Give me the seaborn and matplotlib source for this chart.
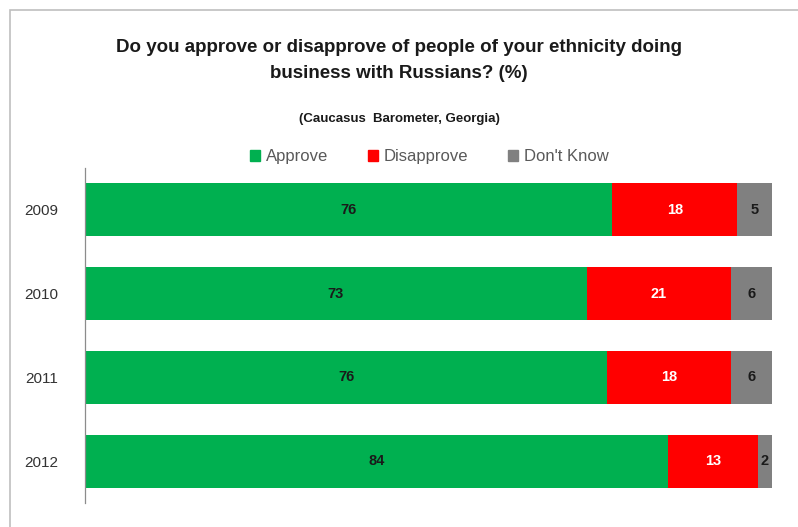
import matplotlib
matplotlib.use("Agg")
import matplotlib.pyplot as plt
from matplotlib.patches import Rectangle
import seaborn as sns
import pandas as pd
import numpy as np

years = ["2009", "2010", "2011", "2012"]
approve = [76, 73, 76, 84]
disapprove = [18, 21, 18, 13]
dont_know = [5, 6, 6, 2]

series_names = ["Approve", "Disapprove", "Don't Know"]
colors = ["#00B050", "#FF0000", "#808080"]
label_colors = ["#1a1a1a", "white", "#1a1a1a"]

sns.set_theme(style="white")
plt.rcParams["font.family"] = ["Liberation Sans", "DejaVu Sans"]

df = pd.DataFrame({"year": years, "Approve": approve,
                   "Disapprove": disapprove, "Don't Know": dont_know})
totals = df[series_names].sum(axis=1)
shares = df[series_names].div(totals, axis=0) * 100
cum = shares.cumsum(axis=1)

fig = plt.figure(figsize=(7.98, 5.27), dpi=100)
ax = fig.add_axes([85 / 798, 1 - 503 / 527, (772 - 85) / 798, (503 - 168) / 527])

# 100% stacked bars: draw cumulative extents from the outermost segment inward
for name, col in reversed(list(zip(series_names, colors))):
    sns.barplot(x=cum[name], y=df["year"], orient="h", color=col,
                width=0.63, saturation=1, ax=ax, linewidth=0)

# value labels centred in each segment
for i in range(len(years)):
    left = 0
    for name, lc in zip(series_names, label_colors):
        w = shares.loc[i, name]
        ax.text(left + w / 2, i, str(df.loc[i, name]), ha="center", va="center",
                fontsize=10.5, fontweight="bold", color=lc)
        left += w

ax.set_xlim(0, 100)
ax.set_ylim(3.5, -0.5)
ax.set_xlabel("")
ax.set_ylabel("")
ax.set_xticks([])
ax.tick_params(axis="y", length=0, pad=19, labelsize=11, labelcolor="#333333")
for s in ["top", "right", "bottom"]:
    ax.spines[s].set_visible(False)
ax.spines["left"].set_color("#8c8c8c")
ax.spines["left"].set_linewidth(0.9)

# outer chart frame
fig.patches.append(Rectangle((10 / 798, -0.1), 1.2, 1 - 10 / 527 + 0.1,
                             transform=fig.transFigure, fill=False,
                             edgecolor="#bfbfbf", linewidth=1.2))

fig.text(0.5, 1 - 48 / 527, "Do you approve or disapprove of people of your ethnicity doing",
         ha="center", va="center", fontsize=13.5, fontweight="bold", color="#1a1a1a")
fig.text(0.5, 1 - 73 / 527, "business with Russians? (%)",
         ha="center", va="center", fontsize=13.5, fontweight="bold", color="#1a1a1a")
fig.text(0.5, 1 - 119 / 527, "(Caucasus  Barometer, Georgia)",
         ha="center", va="center", fontsize=9.5, fontweight="bold", color="#1a1a1a")

handles = [Rectangle((0, 0), 1, 1, color=c) for c in colors]
fig.legend(handles, series_names, loc="center", bbox_to_anchor=(0.538, 1 - 157 / 527),
           ncol=3, frameon=False, fontsize=12, handlelength=0.6, handleheight=0.6,
           handletextpad=0.35, columnspacing=2.4, labelcolor="#595959")

fig.savefig("out.png", dpi=100)
